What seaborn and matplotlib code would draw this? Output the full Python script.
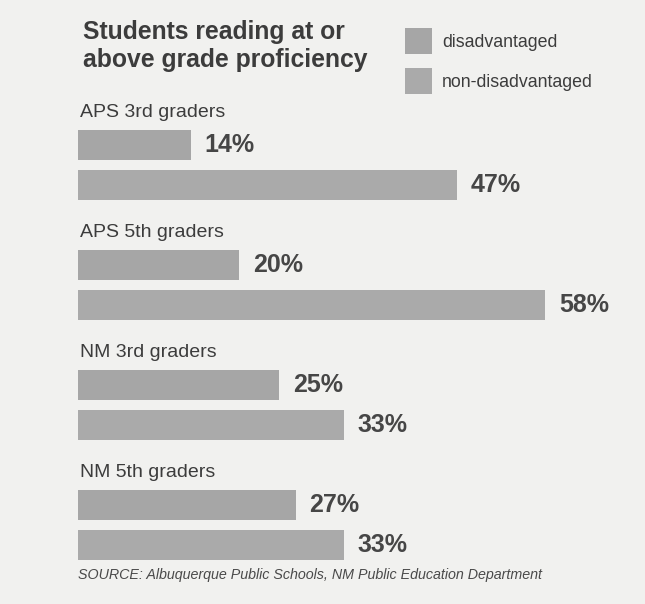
import matplotlib
matplotlib.use("Agg")
import matplotlib.pyplot as plt
import pandas as pd
import seaborn as sns

GROUPS = ["APS 3rd graders", "APS 5th graders", "NM 3rd graders", "NM 5th graders"]
STATUS = ["disadvantaged", "non-disadvantaged"]
DISADVANTAGED = [14, 20, 25, 27]
NON_DISADVANTAGED = [47, 58, 33, 33]

TITLE = "Students reading at or\nabove grade proficiency"
SOURCE = "SOURCE: Albuquerque Public Schools, NM Public Education Department"

BG = "#f1f1ef"
BAR = ["#a6a6a6", "#aaaaaa"]
TEXT = "#3c3c3c"


def main() -> int:
    sns.set_theme(style="white")
    plt.rcParams["font.family"] = ["Liberation Sans", "DejaVu Sans"]

    df = pd.DataFrame({
        "group": GROUPS * 2,
        "status": [STATUS[0]] * len(GROUPS) + [STATUS[1]] * len(GROUPS),
        "value": DISADVANTAGED + NON_DISADVANTAGED,
    })

    fig = plt.figure(figsize=(6.45, 6.04), dpi=100, facecolor=BG)
    ax = fig.add_axes([78 / 645, 1 - 585 / 604, 564 / 645, 480 / 604])
    ax.set_facecolor(BG)

    sns.barplot(data=df, y="group", x="value", hue="status", orient="h",
                order=GROUPS, hue_order=STATUS, palette=BAR,
                width=0.667, gap=0.25, saturation=1, linewidth=0, ax=ax)

    ax.set_xlim(0, 70)
    ax.set_ylim(3.5, -0.5)
    for c in ax.containers:
        ax.bar_label(c, fmt="%d%%", padding=10, fontsize=18, fontweight="bold", color="#464646")

    # group names sit above each pair of bars
    for i, g in enumerate(GROUPS):
        ax.text(0.2, i - 0.44, g, fontsize=14, color=TEXT, va="center", ha="left")

    for s in ax.spines.values():
        s.set_visible(False)
    ax.set_xticks([])
    ax.set_yticks([])
    ax.set_xlabel("")
    ax.set_ylabel("")

    leg = ax.legend(loc="upper left", bbox_to_anchor=(405 / 645, 1 - 28 / 604),
                    bbox_transform=fig.transFigure, frameon=False, fontsize=12.8,
                    handlelength=1.52, handleheight=1.87, handletextpad=0.55,
                    labelspacing=0.8, borderpad=0, borderaxespad=0)
    for t in leg.get_texts():
        t.set_color(TEXT)

    fig.text(83 / 645, 1 - 20 / 604, TITLE, fontsize=17.8, fontweight="bold",
             color=TEXT, va="top", ha="left", linespacing=1.2)
    fig.text(78 / 645, 1 - 575 / 604, SOURCE, fontsize=10.3, style="italic",
             color="#4a4a4a", va="center", ha="left")

    fig.savefig("out.png", dpi=100, facecolor=BG)
    plt.close(fig)
    return 0


if __name__ == "__main__":
    raise SystemExit(main())
